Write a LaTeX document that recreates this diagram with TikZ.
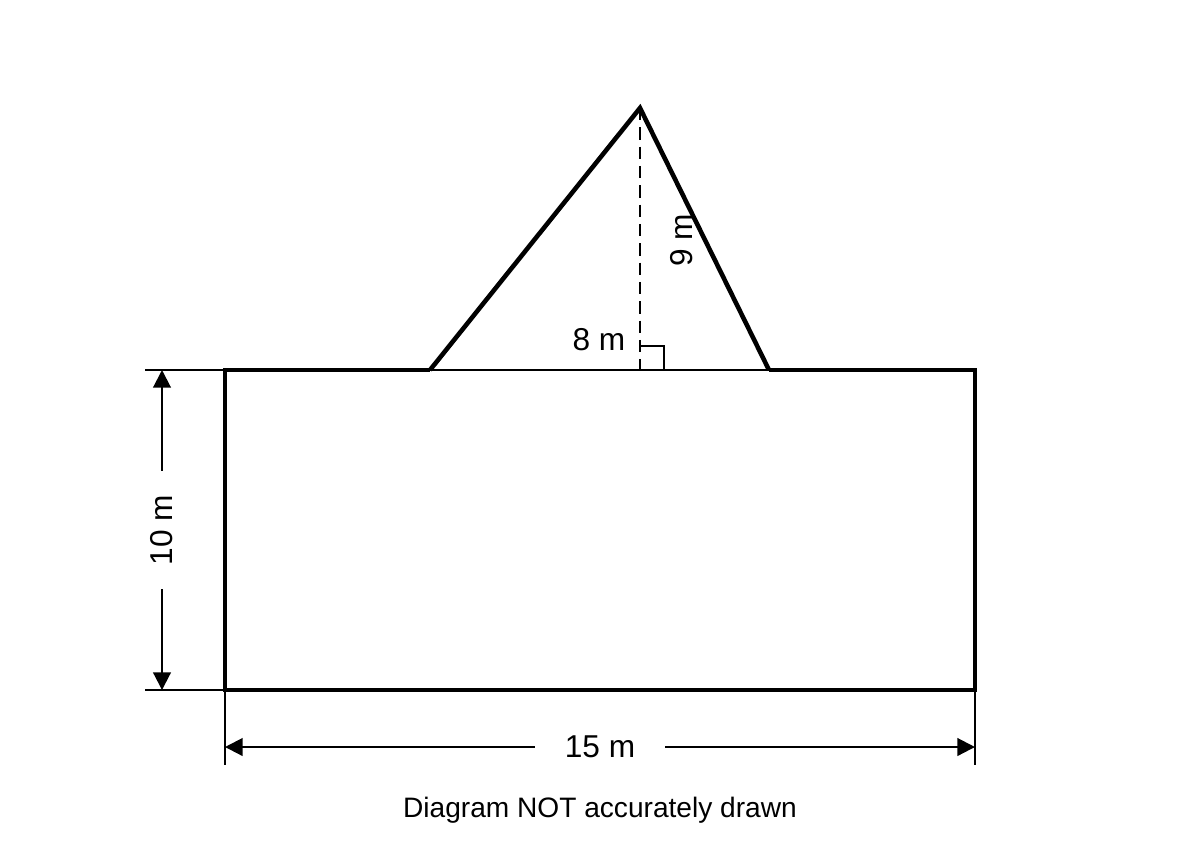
\documentclass[tikz,border=0pt]{standalone}
\usepackage{fontspec}
\setmainfont{Liberation Sans}
\usetikzlibrary{positioning, arrows.meta}

\tikzset{
  outline/.style={line width=2.6pt, line join=miter},
  thinline/.style={line width=1.1pt},
  dimline/.style={line width=1.2pt, {Triangle[length=10pt,width=10pt]}-{Triangle[length=10pt,width=10pt]}},
  dimlabel/.style={fill=white, inner sep=0pt, minimum height=0.55cm}
}

\begin{document}
\begin{tikzpicture}[x=0.02cm, y=-0.02cm, every node/.style={font=\fontsize{18}{21}\selectfont}]
        \useasboundingbox (0,0) rectangle (1200,850);

        % Corners of the rectangle
        \coordinate (TopLeft) at (225,370);
        \coordinate (TopRight) at (975,370);
        \coordinate (BotLeft) at (225,690);
        \coordinate (BotRight) at (975,690);

        % Triangle
        \coordinate (Apex) at (640,108);
        \coordinate (BaseLeft) at (430,370);
        \coordinate (BaseRight) at (769,370);
        \coordinate (Foot) at (640,370);

        % Extension line ends
        \coordinate (ExtTop) at (145,370);
        \coordinate (ExtBot) at (145,690);
        \coordinate (ExtLeft) at (225,765);
        \coordinate (ExtRight) at (975,765);
        \coordinate (ArrTop) at (162,370);
        \coordinate (ArrBot) at (162,690);
        \coordinate (ArrLeft) at (225,747);
        \coordinate (ArrRight) at (975,747);

        % Shapes
        \draw[outline] (BaseLeft) -- (TopLeft) -- (BotLeft) -- (BotRight) -- (TopRight) -- (BaseRight);
        \draw[outline] (BaseLeft) -- (Apex) -- (BaseRight);
        \draw[thinline] (BaseLeft) -- (BaseRight);
        \draw[line width=1.6pt, dash pattern=on 7pt off 4pt] (Apex) -- (Foot);
        \draw[thinline] (640,346) -- (664,346) -- (664,370);

        % Labels on the triangle
        \node (Height) at (599,340) {8 m};
        \node (Slant) [rotate=90] at (682,240) {9 m};

        % Dimensions
        \draw[thinline] (ExtTop) -- (TopLeft);
        \draw[thinline] (ExtBot) -- (BotLeft);
        \draw[thinline] (BotLeft) -- (ExtLeft);
        \draw[thinline] (BotRight) -- (ExtRight);
        \draw[dimline] (ArrTop) -- node[dimlabel, rotate=90, minimum width=2.35cm] (Ten) {10 m} (ArrBot);
        \draw[dimline] (ArrLeft) -- node[dimlabel, minimum width=2.6cm] (Fifteen) {15 m} (ArrRight);

        % Caption
        \node (Caption) at (600,810) {\fontsize{16}{19}\selectfont Diagram NOT accurately drawn};
    \end{tikzpicture}
\end{document}
